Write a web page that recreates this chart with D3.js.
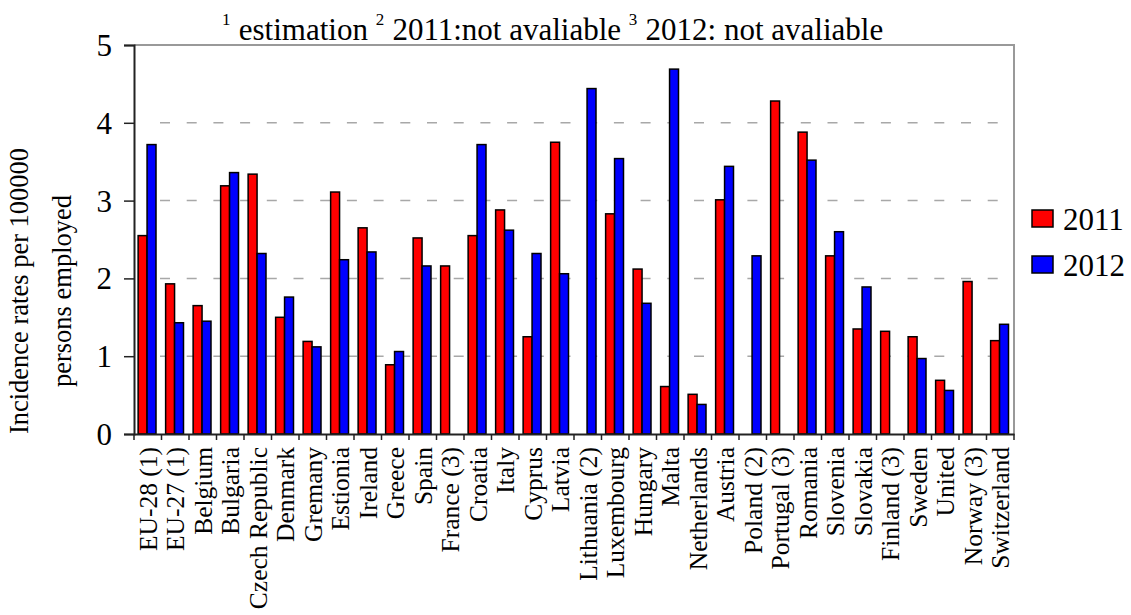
<!DOCTYPE html>
<html>
<head>
  <meta charset="utf-8">
  <script src="https://d3js.org/d3.v7.min.js"></script>
  <style>
    body { margin: 0; background: #fff; }
    text { font-family: "Liberation Serif", "Times New Roman", Times, serif; fill: #000; }
  </style>
</head>
<body>
<div id="container"></div>
<script>
const countries = ["EU-28 (1)", "EU-27 (1)", "Belgium", "Bulgaria", "Czech Republic", "Denmark",
  "Gremany", "Estionia", "Ireland", "Greece", "Spain", "France (3)", "Croatia", "Italy", "Cyprus",
  "Latvia", "Lithuania (2)", "Luxembourg", "Hungary", "Malta", "Netherlands", "Austria", "Poland (2)",
  "Portugal (3)", "Romania", "Slovenia", "Slovakia", "Finland (3)", "Sweden", "United", "Norway (3)",
  "Switzerland"];
const rates2011 = [2.55, 1.93, 1.65, 3.19, 3.34, 1.50, 1.19, 3.11, 2.65, 0.89, 2.52, 2.16, 2.55, 2.88, 1.25,
  3.75, null, 2.83, 2.12, 0.61, 0.51, 3.01, null, 4.28, 3.88, 2.29, 1.35, 1.32, 1.25, 0.69, 1.96, 1.20];
const rates2012 = [3.72, 1.43, 1.45, 3.36, 2.32, 1.76, 1.12, 2.24, 2.34, 1.06, 2.16, null, 3.72, 2.62, 2.32,
  2.06, 4.44, 3.54, 1.68, 4.69, 0.38, 3.44, 2.29, null, 3.52, 2.60, 1.89, null, 0.97, 0.56, null, 1.41];
const years = ["2011", "2012"];
const yearColors = ["#ff0000", "#0000ff"];
const yTicks = [0, 1, 2, 3, 4, 5];

const width = 1131, height = 615,
  margin = {top: 45, right: 117, bottom: 181, left: 134};

const svg = d3.select("#container").append("svg")
  .attr("width", width)
  .attr("height", height)

const x0 = d3.scaleBand()
  .domain(countries)
  .range([margin.left, width - margin.right])

const bw = x0.bandwidth()
const x1 = d3.scaleBand()
  .domain(years)
  .range([bw * 0.15, bw * 0.8])

const y = d3.scaleLinear()
  .domain([0, 5])
  .range([height - margin.bottom, margin.top])

// dashed grid
svg.append("g")
  .selectAll("line")
  .data(yTicks.filter(d => d > 0 && d < 5))
  .enter()
  .append("line")
  .attr("x1", margin.left + 16)
  .attr("x2", width - margin.right)
  .attr("y1", d => y(d))
  .attr("y2", d => y(d))
  .attr("stroke", "#a8a8a8")
  .attr("stroke-width", 1.5)
  .attr("stroke-dasharray", "10,16.7")
  .attr("stroke-dashoffset", 16.7)

// top and right frame
svg.append("path")
  .attr("d", `M${margin.left},${y(5)}H${width - margin.right}V${y(0)}`)
  .attr("fill", "none")
  .attr("stroke", "#999")
  .attr("stroke-width", 2)

// bars
const rows = countries.map((c, i) => ({country: c, vals: [rates2011[i], rates2012[i]]}))

svg.append("g")
  .selectAll("g")
  .data(rows)
  .enter()
  .append("g")
  .attr("transform", d => `translate(${x0(d.country)},0)`)
  .selectAll("rect")
  .data(d => d.vals.map((v, j) => ({year: years[j], value: v, j: j})).filter(e => e.value != null))
  .enter()
  .append("rect")
  .attr("x", d => x1(d.year))
  .attr("width", x1.bandwidth())
  .attr("y", d => y(d.value))
  .attr("height", d => y(0) - y(d.value))
  .attr("fill", d => yearColors[d.j])
  .attr("stroke", "#000")
  .attr("stroke-width", 1.5)

// y axis
const yAxis = svg.append("g")
  .attr("transform", `translate(${margin.left},0)`)
  .call(d3.axisLeft(y).tickValues(yTicks).tickSize(10).tickPadding(12).tickFormat(d3.format("d")))
yAxis.select(".domain").attr("stroke", "#222").attr("stroke-width", 2)
yAxis.selectAll(".tick line").attr("stroke", "#222").attr("stroke-width", 1.5)
yAxis.selectAll("text").style("font-size", "31px").attr("dy", "0.34em")

// x axis
const xAxis = svg.append("g")
  .attr("transform", `translate(0,${y(0)})`)
  .call(d3.axisBottom(x0).tickSize(0))
xAxis.select(".domain").attr("stroke", "#222").attr("stroke-width", 2)
xAxis.selectAll("text")
  .style("font-size", "25.5px")
  .style("text-anchor", "end")
  .attr("transform", "rotate(-90)")
  .attr("x", -13)
  .attr("y", 0)
  .attr("dy", "0.35em")

xAxis.selectAll(".bound")
  .data(countries.map(c => x0(c)).concat([width - margin.right]))
  .enter()
  .append("line")
  .attr("class", "bound")
  .attr("x1", d => d)
  .attr("x2", d => d)
  .attr("y1", 0)
  .attr("y2", 6)
  .attr("stroke", "#222")
  .attr("stroke-width", 1.5)

// y label
const yLabel = svg.append("text")
  .attr("transform", "translate(0,291) rotate(-90)")
  .style("font-size", "26.5px")
  .style("text-anchor", "middle")
yLabel.append("tspan").attr("x", 0).attr("y", 28).text("Incidence rates per 100000")
yLabel.append("tspan").attr("x", 0).attr("y", 71).text("persons employed")

// title
const title = svg.append("text")
  .attr("x", 222)
  .attr("y", 40)
  .style("font-size", "31px")
const parts = [["1 ", true], ["estimation ", false], ["2 ", true], ["2011:not avaliable ", false],
  ["3 ", true], ["2012: not avaliable", false]]
parts.forEach(p => {
  title.append("tspan")
    .attr("dy", p[1] ? -15 : 15)
    .attr("dx", p[1] ? 0 : 4)
    .style("font-size", p[1] ? "17px" : "31px")
    .text(p[0])
})

// legend
const legend = svg.append("g")
  .selectAll("g")
  .data(years)
  .enter()
  .append("g")
  .attr("transform", (d, i) => `translate(1032,${210 + i * 46})`)
legend.append("rect")
  .attr("width", 21)
  .attr("height", 17)
  .attr("fill", (d, i) => yearColors[i])
  .attr("stroke", "#000")
  .attr("stroke-width", 1.5)
legend.append("text")
  .attr("x", 31)
  .attr("y", 20)
  .style("font-size", "31px")
  .text(d => d)
</script>
</body>
</html>
